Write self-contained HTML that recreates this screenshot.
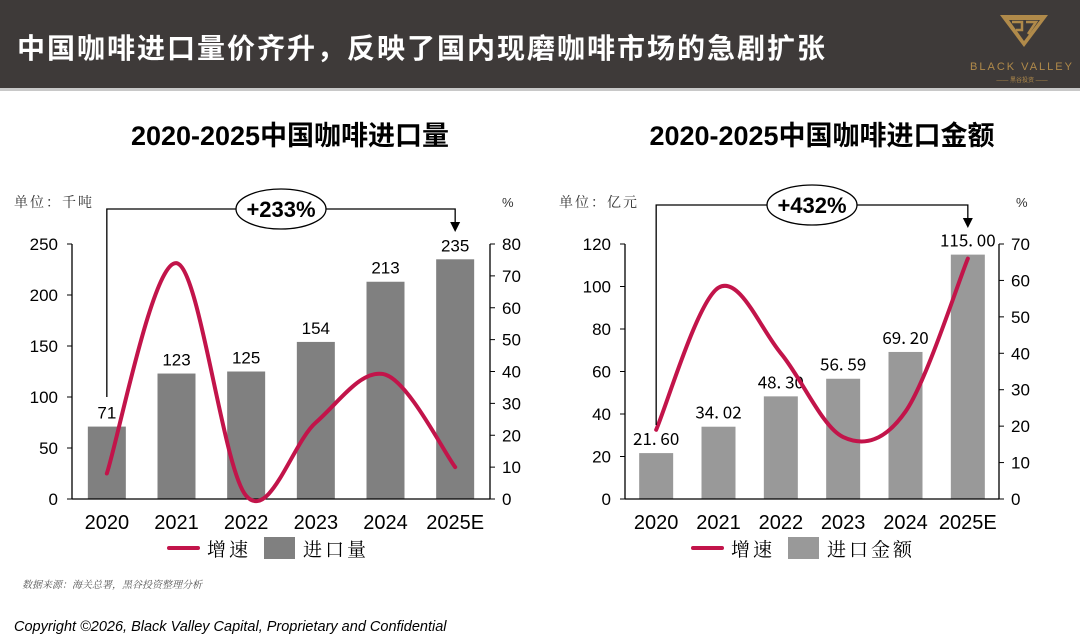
<!DOCTYPE html>
<html><head><meta charset="utf-8"><style>
body{margin:0;width:1080px;height:643px;background:#fff;overflow:hidden;font-family:"Liberation Sans","Noto Sans CJK SC",sans-serif;}
svg{display:block}
</style></head><body>
<svg width="1080" height="643">
<rect x="0" y="0" width="1080" height="88" fill="#3e3a39"/>
<rect x="0" y="88" width="1080" height="3" fill="#c8c8c8"/>
<text x="17" y="58" fill="#fff" font-size="28" font-weight="bold" font-family="'Noto Sans CJK SC',sans-serif" letter-spacing="2">中国咖啡进口量价齐升，反映了国内现磨咖啡市场的急剧扩张</text>
<g>
<path d="M1000 15 L1048 15 L1024 47 Z M1009 20 L1040 20 L1024 41 Z" fill="#b08a4a" fill-rule="evenodd"/>
<path d="M1012 22 L1022 22 L1022 30 L1016 30 M1026 22 L1036 22 L1028 34" stroke="#b08a4a" stroke-width="2.5" fill="none"/>
<text x="1022" y="70" fill="#b08a4a" font-size="11" letter-spacing="2" text-anchor="middle">BLACK VALLEY</text>
<text x="1022" y="82" fill="#b08a4a" font-size="6" text-anchor="middle">—— 黑谷投资 ——</text>
</g>
<g id="c1"></g><g id="c2"></g>
<text x="22" y="588" fill="#555" font-size="10" font-style="italic" font-family="'Noto Serif CJK SC',serif">数据来源：海关总署，黑谷投资整理分析</text>
<text x="14" y="631" fill="#000" font-size="14.5" font-style="italic">Copyright ©2026, Black Valley Capital, Proprietary and Confidential</text>
</svg>
<script>
const categories=["2020","2021","2022","2023","2024","2025E"];
const volumeValues=[71,123,125,154,213,235];
const volumeLabels=["71","123","125","154","213","235"];
const volumeGrowth=[8,74,1,24,39,10];
const valueValues=[21.6,34.02,48.3,56.59,69.2,115];
const valueLabels=["21. 60","34. 02","48. 30","56. 59","69. 20","115. 00"];
const valueGrowth=[19,58,40,17,24,66];
const leftTicks1=[0,50,100,150,200,250];
const rightTicks1=[0,10,20,30,40,50,60,70,80];
const leftTicks2=[0,20,40,60,80,100,120];
const rightTicks2=[0,10,20,30,40,50,60,70];

const NS="http://www.w3.org/2000/svg";
function mk(p,tag,attrs,txt){const e=document.createElementNS(NS,tag);for(const k in attrs)e.setAttribute(k,attrs[k]);if(txt!==undefined)e.textContent=txt;p.appendChild(e);return e;}

function chart(g,o){
  const y0=499,y1=244;
  const yL=v=>y0-(v/o.lmax)*(y0-y1);
  const yR=v=>y0-(v/o.rmax)*(y0-y1);
  const band=(o.xr-o.xl)/categories.length;
  const xC=i=>o.xl+band*(i+0.5);
  let t=mk(g,'text',{x:o.titleX,y:145,'font-size':27,'font-weight':'bold','text-anchor':'middle',fill:'#000'},o.title);
  
  
  t=mk(g,'text',{x:o.unitX,y:207,'font-size':14,fill:'#333','letter-spacing':'2','font-family':"'Noto Serif CJK SC',serif"},o.unit);
  
  
  t=mk(g,'text',{x:o.pctX,y:207,'font-size':13,fill:'#333'},'%');
  
  
  o.vals.forEach((v,i)=>{
    const r=mk(g,'rect',{x:xC(i)-o.bw/2,y:yL(v),width:o.bw,height:y0-yL(v),fill:o.barColor});
    
    
    const l=mk(g,'text',{x:xC(i),y:yL(v)-8,'font-size':o.lblSize,'text-anchor':'middle',fill:'#000','font-family':o.lblFont},o.labels[i]);
    
    
    const xl=mk(g,'text',{x:xC(i),y:529,'font-size':20,'text-anchor':'middle',fill:'#000'},categories[i]);
    
    
  });
  let a=mk(g,'line',{x1:o.xl,y1:y0,x2:o.xr,y2:y0,stroke:'#000','stroke-width':1.3});
  
  
  a=mk(g,'line',{x1:o.xl,y1:y1,x2:o.xl,y2:y0,stroke:'#000','stroke-width':1.3});
  
  
  a=mk(g,'line',{x1:o.xr,y1:y1,x2:o.xr,y2:y0,stroke:'#000','stroke-width':1.3});
  
  
  o.lt.forEach(v=>{
    mk(g,'line',{x1:o.xl-5,y1:yL(v),x2:o.xl,y2:yL(v),stroke:'#000'});
    const l=mk(g,'text',{x:o.xl-14,y:yL(v)+6,'font-size':17,'text-anchor':'end',fill:'#000'},v);
    
    
  });
  o.rt.forEach(v=>{
    mk(g,'line',{x1:o.xr,y1:yR(v),x2:o.xr+5,y2:yR(v),stroke:'#000'});
    const l=mk(g,'text',{x:o.xr+12,y:yR(v)+6,'font-size':17,fill:'#000'},v);
    
    
  });
  const P=o.growth.map((v,i)=>[xC(i),yR(v)]);
  let d='M'+P[0][0]+' '+P[0][1];
  for(let i=0;i<P.length-1;i++){
    const p0=P[i-1]||P[i],p1=P[i],p2=P[i+1],p3=P[i+2]||P[i+1];
    const c1=[p1[0]+(p2[0]-p0[0])/6,p1[1]+(p2[1]-p0[1])/6];
    const c2=[p2[0]-(p3[0]-p1[0])/6,p2[1]-(p3[1]-p1[1])/6];
    d+=` C${c1[0]} ${c1[1]} ${c2[0]} ${c2[1]} ${p2[0]} ${p2[1]}`;
  }
  const ln=mk(g,'path',{d:d,fill:'none',stroke:'#c2144a','stroke-width':4,'stroke-linecap':'round'});
  
  
  const bx1=xC(0),bx2=xC(5),by=o.by;
  const br=mk(g,'path',{d:`M${bx1} ${o.bBottom} L${bx1} ${by} L${bx2} ${by} L${bx2} ${by+14}`,fill:'none',stroke:'#000','stroke-width':1.3});
  
  
  const ar=mk(g,'path',{d:`M${bx2-5} ${by+13} L${bx2+5} ${by+13} L${bx2} ${by+23} Z`,fill:'#000'});
  
  
  const el=mk(g,'ellipse',{cx:o.ex,cy:by,rx:45,ry:20,fill:'#fff',stroke:'#000','stroke-width':1.3});
  
  
  t=mk(g,'text',{x:o.ex,y:by+8,'font-size':22,'font-weight':'bold','text-anchor':'middle',fill:'#000'},o.cagr);
  
  
  const lg=mk(g,'g',{});
  
  
  mk(lg,'line',{x1:o.legX,y1:548,x2:o.legX+29,y2:548,stroke:'#c2144a','stroke-width':4,'stroke-linecap':'round'});
  mk(lg,'text',{x:o.legX+38,y:556,'font-size':19,fill:'#000','letter-spacing':'3','font-family':"'Noto Serif CJK SC',serif"},'增速');
  mk(lg,'rect',{x:o.legX+95,y:537,width:31,height:22,fill:o.barColor});
  mk(lg,'text',{x:o.legX+134,y:556,'font-size':19,fill:'#000','letter-spacing':'3','font-family':"'Noto Serif CJK SC',serif"},o.legName);
}
chart(document.getElementById('c1'),{xl:72,xr:490,lmax:250,rmax:80,bw:38,barColor:'#808080',vals:volumeValues,labels:volumeLabels,growth:volumeGrowth,lt:leftTicks1,rt:rightTicks1,title:'2020-2025中国咖啡进口量',titleX:290,unit:'单位：千吨',unitX:14,pctX:502,by:209,bBottom:397,ex:281,cagr:'+233%',legX:169,legName:'进口量',lblSize:17,lblFont:"'Liberation Sans',sans-serif"});
chart(document.getElementById('c2'),{xl:625,xr:999,lmax:120,rmax:70,bw:34,barColor:'#999999',vals:valueValues,labels:valueLabels,growth:valueGrowth,lt:leftTicks2,rt:rightTicks2,title:'2020-2025中国咖啡进口金额',titleX:822,unit:'单位：亿元',unitX:559,pctX:1016,by:205,bBottom:425,ex:812,cagr:'+432%',legX:693,legName:'进口金额',lblSize:17,lblFont:"'Noto Sans CJK SC',sans-serif"});
</script>
</body></html>
